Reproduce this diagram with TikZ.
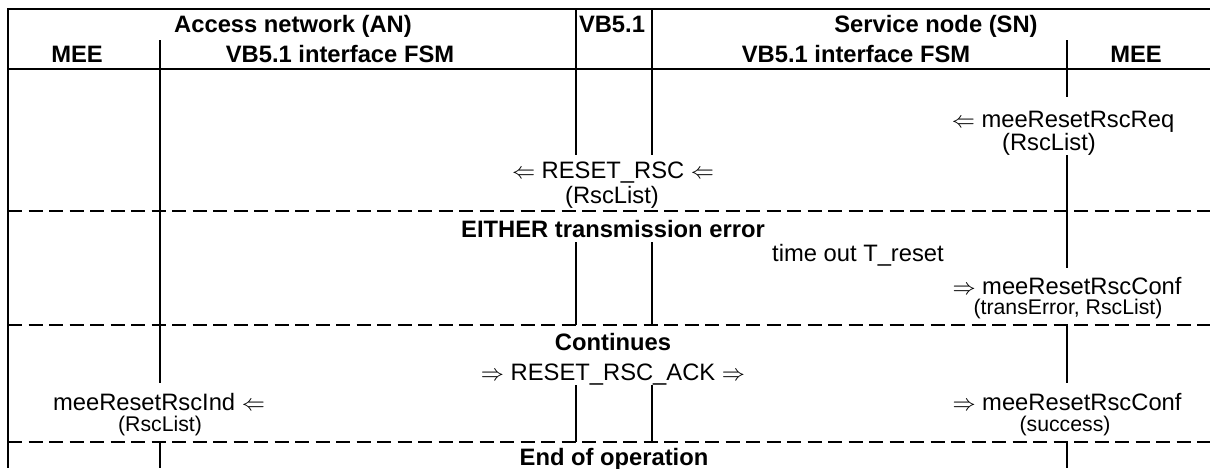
\documentclass[tikz,border=0pt]{standalone}
\usepackage{fontspec}
\setmainfont{Liberation Sans}
\newcommand{\myL}{$\Leftarrow$}
\newcommand{\myR}{$\Rightarrow$}
\tikzset{
  frameline/.style={line width=0.85pt},
  sepline/.style={line width=0.85pt, dash pattern=on 5.6pt off 2.6pt},
  lifeline/.style={line width=0.85pt},
  hd/.style={font=\fontsize{9.5}{11}\selectfont\bfseries, anchor=base, inner sep=0pt},
  msg/.style={font=\fontsize{9.5}{11}\selectfont, anchor=base, inner sep=0pt},
  prm/.style={font=\fontsize{8.5}{10}\selectfont, anchor=base, inner sep=0pt},
}
\begin{document}
\begin{tikzpicture}[x=0.4pt, y=-0.4pt]
\useasboundingbox (0,0) rectangle (1210,468);
% frame coordinates
\coordinate (TL) at (8,9);
\coordinate (TR) at (1210,9);
\coordinate (BL) at (8,468);
\coordinate (HL) at (8,69);
\coordinate (HR) at (1210,69);
\coordinate (D1L) at (8,211);
\coordinate (D1R) at (1210,211);
\coordinate (D2L) at (8,325);
\coordinate (D2R) at (1210,325);
\coordinate (D3L) at (8,442);
\coordinate (D3R) at (1210,442);
\draw[frameline] (TR) -- (TL) -- (BL);
\draw[frameline] (HL) -- (HR);
\draw[sepline] (D1L) -- (D1R);
\draw[sepline] (D2L) -- (D2R);
\draw[sepline] (D3L) -- (D3R);
% lifeline end points
\coordinate (A1) at (160,40);  \coordinate (A2) at (160,383);
\coordinate (A3) at (160,442); \coordinate (A4) at (160,468);
\coordinate (B1) at (576,9);   \coordinate (B2) at (576,155);
\coordinate (B3) at (576,242); \coordinate (B4) at (576,325);
\coordinate (B5) at (576,385); \coordinate (B6) at (576,442);
\coordinate (C1) at (652,9);   \coordinate (C2) at (652,155);
\coordinate (C3) at (652,242); \coordinate (C4) at (652,325);
\coordinate (C5) at (652,385); \coordinate (C6) at (652,442);
\coordinate (E1) at (1067,40);  \coordinate (E2) at (1067,97);
\coordinate (E3) at (1067,155); \coordinate (E4) at (1067,268);
\coordinate (E5) at (1067,325); \coordinate (E6) at (1067,383);
\coordinate (E7) at (1067,442); \coordinate (E8) at (1067,468);
\draw[lifeline] (A1) -- (A2) (A3) -- (A4);
\draw[lifeline] (B1) -- (B2) (B3) -- (B4) (B5) -- (B6);
\draw[lifeline] (C1) -- (C2) (C3) -- (C4) (C5) -- (C6);
\draw[lifeline] (E1) -- (E2) (E3) -- (E4) (E5) -- (E6) (E7) -- (E8);
% headers
\node[hd] (an) at (293,32) {Access network (AN)};
\node[hd] (vb) at (612,32) {VB5.1};
\node[hd] (sn) at (936,32) {Service node (SN)};
\node[hd] (mee1) at (77,62) {MEE};
\node[hd] (fsm1) at (340,62) {VB5.1 interface FSM};
\node[hd] (fsm2) at (856,62) {VB5.1 interface FSM};
\node[hd] (mee2) at (1136,62) {MEE};
% messages
\node[msg] (req) at (1063,127) {\myL\ meeResetRscReq};
\node[msg] (reqp) at (1049,150) {(RscList)};
\node[msg] (rst) at (613,178) {\myL\ RESET\_RSC \myL};
\node[msg] (rstp) at (612,203) {(RscList)};
\node[hd] (either) at (613,237) {EITHER transmission error};
\node[msg] (tout) at (858,261) {time out T\_reset};
\node[msg] (conf1) at (1067,294) {\myR\ meeResetRscConf};
\node[prm] (conf1p) at (1068,314) {(transError, RscList)};
\node[hd] (cont) at (613,350) {Continues};
\node[msg] (ack) at (613,380) {\myR\ RESET\_RSC\_ACK \myR};
\node[msg] (ind) at (159,410) {meeResetRscInd \myL};
\node[prm] (indp) at (160,431) {(RscList)};
\node[msg] (conf2) at (1067,410) {\myR\ meeResetRscConf};
\node[prm] (conf2p) at (1065,431) {(success)};
\node[hd] (endop) at (614,465) {End of operation};
\end{tikzpicture}
\end{document}
